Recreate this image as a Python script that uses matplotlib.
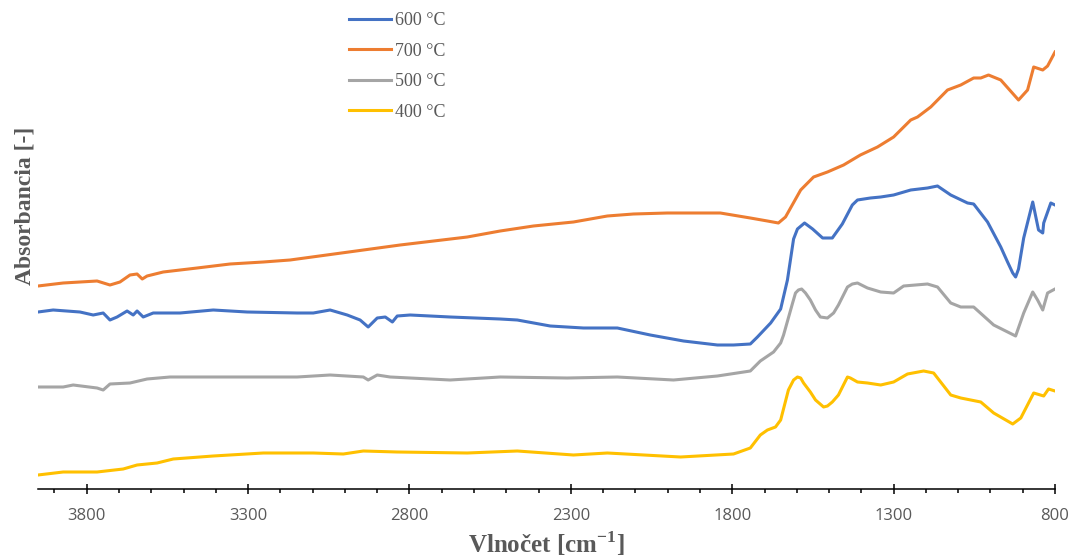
import numpy as np
import matplotlib
matplotlib.use("Agg")
import matplotlib.pyplot as plt
from matplotlib.ticker import MultipleLocator

# FTIR spectra, values (arbitrary absorbance units)
wn_700 = [3951, 3873, 3768, 3728, 3697, 3666, 3644, 3628, 3613, 3563, 3458, 3356, 3253, 3170,
          2829, 2621, 2519, 2416, 2292, 2187, 2106, 2001, 1899, 1837, 1744, 1691, 1657, 1635,
          1588, 1548, 1505, 1455, 1403, 1350, 1300, 1247, 1226, 1185, 1133, 1092, 1052, 1030,
          1006, 968, 913, 885, 866, 838, 823, 800]
ab_700 = [2.03, 2.06, 2.08, 2.04, 2.07, 2.14, 2.15, 2.10, 2.13, 2.17, 2.21, 2.25, 2.27, 2.29,
          2.44, 2.52, 2.58, 2.63, 2.67, 2.73, 2.75, 2.76, 2.76, 2.76, 2.71, 2.68, 2.66, 2.72,
          2.99, 3.12, 3.17, 3.24, 3.34, 3.42, 3.52, 3.69, 3.72, 3.82, 3.99, 4.04, 4.11, 4.11,
          4.14, 4.09, 3.89, 3.99, 4.22, 4.19, 4.23, 4.37]

wn_600 = [3951, 3904, 3821, 3780, 3749, 3728, 3706, 3675, 3656, 3644, 3625, 3594, 3511, 3408,
          3303, 3148, 3098, 3046, 2993, 2953, 2928, 2900, 2875, 2853, 2838, 2798, 2674, 2519,
          2466, 2364, 2261, 2156, 2054, 1951, 1846, 1796, 1744, 1722, 1681, 1650, 1629, 1610,
          1598, 1576, 1551, 1520, 1490, 1459, 1428, 1412, 1372, 1340, 1300, 1247, 1195, 1164,
          1123, 1071, 1052, 1009, 968, 947, 931, 922, 913, 897, 869, 851, 838, 835, 813, 800]
ab_600 = [1.77, 1.79, 1.77, 1.74, 1.76, 1.69, 1.72, 1.78, 1.74, 1.78, 1.72, 1.76, 1.76, 1.79,
          1.77, 1.76, 1.76, 1.79, 1.74, 1.69, 1.62, 1.71, 1.72, 1.67, 1.73, 1.74, 1.72, 1.70,
          1.69, 1.63, 1.61, 1.61, 1.54, 1.48, 1.44, 1.44, 1.45, 1.52, 1.66, 1.80, 2.09, 2.50,
          2.60, 2.66, 2.60, 2.51, 2.51, 2.65, 2.84, 2.89, 2.91, 2.92, 2.94, 2.99, 3.01, 3.03,
          2.94, 2.86, 2.85, 2.67, 2.42, 2.27, 2.16, 2.12, 2.20, 2.51, 2.87, 2.59, 2.56, 2.66,
          2.86, 2.84]

wn_500 = [3951, 3873, 3842, 3768, 3749, 3728, 3666, 3613, 3542, 3408, 3253, 3148, 3046, 2943,
          2928, 2900, 2860, 2798, 2674, 2519, 2311, 2156, 1982, 1846, 1744, 1713, 1672, 1650,
          1641, 1613, 1604, 1595, 1585, 1573, 1558, 1542, 1527, 1505, 1486, 1471, 1443, 1428,
          1412, 1381, 1340, 1300, 1269, 1195, 1164, 1123, 1092, 1052, 990, 922, 897, 869, 854,
          838, 823, 800]
ab_500 = [1.02, 1.02, 1.04, 1.01, 0.99, 1.05, 1.06, 1.10, 1.12, 1.12, 1.12, 1.12, 1.14, 1.12,
          1.09, 1.14, 1.12, 1.11, 1.09, 1.12, 1.11, 1.12, 1.09, 1.13, 1.18, 1.28, 1.37, 1.46,
          1.54, 1.86, 1.96, 1.99, 2.00, 1.96, 1.89, 1.79, 1.72, 1.71, 1.76, 1.84, 2.02, 2.05,
          2.06, 2.01, 1.97, 1.96, 2.03, 2.05, 2.02, 1.86, 1.82, 1.82, 1.64, 1.53, 1.76, 1.97,
          1.89, 1.79, 1.96, 2.00]

wn_400 = [3951, 3873, 3768, 3687, 3644, 3582, 3532, 3408, 3253, 3098, 3005, 2943, 2838, 2621,
          2466, 2292, 2187, 1960, 1796, 1744, 1713, 1691, 1666, 1650, 1626, 1610, 1598, 1588,
          1579, 1558, 1542, 1517, 1505, 1490, 1471, 1443, 1434, 1412, 1381, 1340, 1300, 1257,
          1207, 1176, 1123, 1092, 1030, 990, 931, 906, 866, 835, 820, 800]
ab_400 = [0.14, 0.17, 0.17, 0.20, 0.24, 0.26, 0.30, 0.33, 0.36, 0.36, 0.35, 0.38, 0.37, 0.36,
          0.38, 0.34, 0.36, 0.32, 0.35, 0.41, 0.54, 0.59, 0.62, 0.69, 0.99, 1.09, 1.12, 1.11,
          1.06, 0.97, 0.89, 0.82, 0.83, 0.87, 0.94, 1.12, 1.11, 1.07, 1.06, 1.04, 1.07, 1.15,
          1.18, 1.16, 0.94, 0.91, 0.87, 0.76, 0.65, 0.71, 0.96, 0.93, 1.00, 0.98]

series = [
    ("600 °C", wn_600, ab_600, "#4472C4"),
    ("700 °C", wn_700, ab_700, "#ED7D31"),
    ("500 °C", wn_500, ab_500, "#A5A5A5"),
    ("400 °C", wn_400, ab_400, "#FFC000"),
]

plt.rcParams["mathtext.fontset"] = "custom"
plt.rcParams["mathtext.rm"] = "Liberation Serif"
plt.rcParams["mathtext.bf"] = "Liberation Serif:bold"

W, H = 1071, 556
fig = plt.figure(figsize=(W / 100, H / 100), dpi=100)
ax = fig.add_axes([38 / W, (H - 489) / H, 1017 / W, 479 / H])

for label, x, y, col in series:
    ax.plot(x, y, color=col, lw=2.2, label=label, solid_joinstyle="round")

ax.set_xlim(3951, 800)
ax.set_ylim(0, 4.79)

for s in ["top", "right", "left"]:
    ax.spines[s].set_visible(False)
ax.spines["bottom"].set_linewidth(1.1)
ax.set_yticks([])

ax.set_xticks([3800, 3300, 2800, 2300, 1800, 1300, 800])
ax.xaxis.set_minor_locator(MultipleLocator(100))
ax.tick_params(axis="x", which="major", direction="inout", length=7, width=1.1,
               pad=10, labelsize=12, labelcolor="#595959")
ax.tick_params(axis="x", which="minor", direction="out", length=3, width=1.1)
for t in ax.get_xticklabels():
    t.set_fontfamily("Open Sans")

ax.set_xlabel(r"Vlnočet [cm$^{\mathbf{-1}}$]", fontsize=18, fontweight="bold",
              color="#595959", fontfamily="Liberation Serif", labelpad=4)
fig.text(25 / W, 1 - 206 / H, "Absorbancia [-]", rotation=90, ha="center", va="center",
         fontsize=17, fontweight="bold", color="#595959", fontfamily="Liberation Serif")

leg = ax.legend(loc="upper left", bbox_to_anchor=(349 / W, 1 - 12 / H),
                bbox_transform=fig.transFigure, frameon=False, borderpad=0,
                borderaxespad=0, handlelength=2.3, handletextpad=0.25, labelspacing=0.75,
                prop={"family": "Liberation Serif", "size": 13})
for t in leg.get_texts():
    t.set_color("#595959")

fig.savefig("out.png", dpi=100)
